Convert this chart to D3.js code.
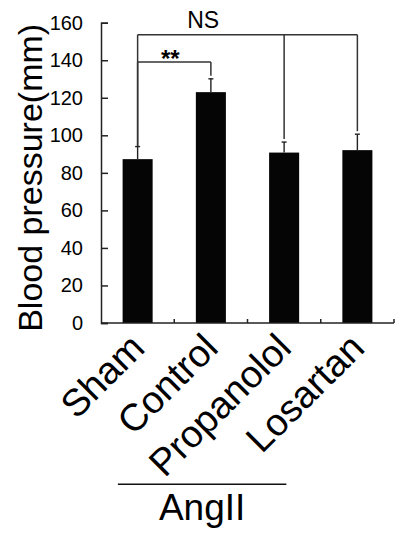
<!DOCTYPE html>
<html>
<head>
<meta charset="utf-8">
<script src="https://cdn.jsdelivr.net/npm/d3@7"></script>
<style>
  body { margin: 0; background: #fff; }
  text { font-family: Arial, "Liberation Sans", sans-serif; fill: #000; }
</style>
</head>
<body>
<div id="chart"></div>
<script>
const categories = ['Sham', 'Control', 'Propanolol', 'Losartan'];
const means = [87.3, 123, 90.8, 92.1];
const errors = [6.7, 7.1, 5.6, 8.5];
const yTicks = [0, 20, 40, 60, 80, 100, 120, 140, 160];
const yLabel = 'Blood pressure(mm)';
const groupLabel = 'AngII';
const groupMembers = ['Control', 'Propanolol', 'Losartan'];
const sigFrom = ['Sham', 'Sham'];
const sigTo = [['Control'], ['Propanolol', 'Losartan']];
const sigLevel = [139, 153.6];
const sigText = ['**', 'NS'];

const width = 398, height = 536;
const margin = { left: 101, right: 4, top: 22.7, bottom: 213 };

const svg = d3.select('#chart').append('svg')
    .attr('width', width)
    .attr('height', height);

const x = d3.scaleBand()
    .domain(categories)
    .range([margin.left, width - margin.right])
    .paddingInner(0.59)
    .paddingOuter(0.295);

const y = d3.scaleLinear()
    .domain([0, 160])
    .range([height - margin.bottom, margin.top]);

const cx = c => x(c) + x.bandwidth() / 2;
const y0 = y(0);

// bars
svg.append('g').selectAll('rect').data(categories)
    .enter().append('rect')
    .attr('x', d => x(d))
    .attr('y', (d, i) => y(means[i]))
    .attr('width', x.bandwidth())
    .attr('height', (d, i) => y0 - y(means[i]))
    .attr('fill', '#050505');

// error bars (upper only)
const eb = svg.append('g').attr('stroke', '#222').attr('stroke-width', 1.4);
categories.forEach((c, i) => {
    const top = y(means[i] + errors[i]);
    eb.append('line')
        .attr('x1', cx(c)).attr('x2', cx(c))
        .attr('y1', y(means[i])).attr('y2', top);
    eb.append('line')
        .attr('x1', cx(c) - 2.5).attr('x2', cx(c) + 2.5)
        .attr('y1', top).attr('y2', top);
});

// y axis
const yAxis = d3.axisLeft(y)
    .tickValues(yTicks)
    .tickSize(-7)
    .tickPadding(18);
const yAxisG = svg.append('g')
    .attr('transform', `translate(${margin.left},0)`)
    .call(yAxis);
yAxisG.select('.domain').attr('stroke', '#222').attr('stroke-width', 1.5);
yAxisG.selectAll('.tick line').attr('stroke', '#222').attr('stroke-width', 1.5);
yAxisG.selectAll('.tick text')
    .attr('font-size', 20)
    .attr('font-family', 'Arial, "Liberation Sans", sans-serif')
    .attr('fill', '#111');

svg.append('text')
    .attr('transform', `translate(42,${(y(0) + y(160)) / 2 + 5}) rotate(-90)`)
    .attr('text-anchor', 'middle')
    .attr('font-size', 34)
    .text(yLabel);

// x axis: baseline with small inward ticks at band boundaries
const xr = x.range();
const step = x.step();
const bounds = d3.range(categories.length + 1).map(i => xr[0] + i * step);
const xAxisG = svg.append('g').attr('stroke', '#222').attr('stroke-width', 1.5);
xAxisG.append('line')
    .attr('x1', xr[0]).attr('x2', xr[1])
    .attr('y1', y0).attr('y2', y0);
xAxisG.selectAll('.xt').data(bounds.slice(1))
    .enter().append('line')
    .attr('class', 'xt')
    .attr('x1', d => d).attr('x2', d => d)
    .attr('y1', y0).attr('y2', y0 - 4);

svg.append('g').selectAll('text').data(categories)
    .enter().append('text')
    .attr('transform', d => `translate(${cx(d) + 9},${y0 + 27}) rotate(-45)`)
    .attr('text-anchor', 'end')
    .attr('font-size', 38)
    .text(d => d);

// group line + label
const gx1 = cx(groupMembers[0]) - 93;
const gx2 = cx(groupMembers[groupMembers.length - 1]) - 71;
svg.append('line')
    .attr('x1', gx1).attr('x2', gx2)
    .attr('y1', 484.3).attr('y2', 484.3)
    .attr('stroke', '#111').attr('stroke-width', 1.5);
svg.append('text')
    .attr('x', (gx1 + gx2) / 2)
    .attr('y', 520)
    .attr('text-anchor', 'middle')
    .attr('font-size', 37)
    .text(groupLabel);

// significance brackets
const br = svg.append('g').attr('stroke', '#333').attr('stroke-width', 1.5).attr('fill', 'none');
sigFrom.forEach((from, k) => {
    const ly = y(sigLevel[k]);
    const iFrom = categories.indexOf(from);
    const ends = sigTo[k];
    const lastX = cx(ends[ends.length - 1]);
    br.append('line')
        .attr('x1', cx(from)).attr('x2', lastX)
        .attr('y1', ly).attr('y2', ly);
    br.append('line')
        .attr('x1', cx(from)).attr('x2', cx(from))
        .attr('y1', ly).attr('y2', y(means[iFrom] + errors[iFrom]));
    ends.forEach(c => {
        const i = categories.indexOf(c);
        br.append('line')
            .attr('x1', cx(c)).attr('x2', cx(c))
            .attr('y1', ly).attr('y2', y(means[i] + errors[i]) - 3);
    });
});

svg.append('text')
    .attr('x', (cx(sigFrom[0]) + cx(sigTo[0][0])) / 2 - 4)
    .attr('y', y(sigLevel[0]) + 5)
    .attr('text-anchor', 'middle')
    .attr('font-size', 24)
    .attr('font-weight', 'bold')
    .text(sigText[0]);

svg.append('text')
    .attr('x', cx(sigTo[1][0]) - 81)
    .attr('y', y(sigLevel[1]) - 7)
    .attr('text-anchor', 'middle')
    .attr('font-size', 23)
    .text(sigText[1]);
</script>
</body>
</html>
